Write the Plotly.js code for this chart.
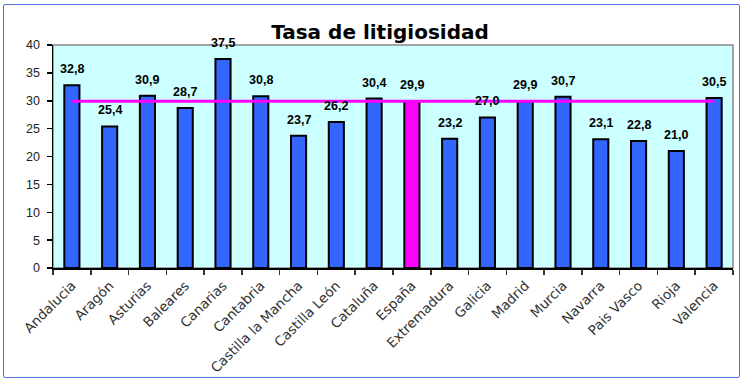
<!DOCTYPE html>
<html><head><meta charset="utf-8">
<script src="https://cdn.plot.ly/plotly-3.0.1.min.js"></script>
<style>
html,body{margin:0;padding:0;background:#fff;}
#wrap{position:relative;width:743px;height:382px;}
#chart{width:743px;height:382px;}
#frame{position:absolute;left:3px;top:4px;width:735px;height:372px;border:1.5px solid #4a74d6;border-radius:2px;pointer-events:none;}
</style></head>
<body>
<div id="wrap"><div id="chart"></div><div id="frame"></div></div>
<script>
const categories = ["Andalucia","Aragón","Asturias","Baleares","Canarias","Cantabria","Castilla la Mancha","Castilla León","Cataluña","España","Extremadura","Galicia","Madrid","Murcia","Navarra","Pais Vasco","Rioja","Valencia"];
const tasa = [32.8,25.4,30.9,28.7,37.5,30.8,23.7,26.2,30.4,29.9,23.2,27.0,29.9,30.7,23.1,22.8,21.0,30.5];
const mediaEspana = [29.9,29.9,29.9,29.9,29.9,29.9,29.9,29.9,29.9,29.9,29.9,29.9,29.9,29.9,29.9,29.9,29.9,29.9];
const yTicks = [0,5,10,15,20,25,30,35,40];

const barColors = categories.map(c => c === "España" ? "#ff00ff" : "#3366ff");

const traces = [
  {
    type: "bar", x: categories, y: tasa,
    marker: {color: barColors, line: {color: "#000", width: 2}},
    hoverinfo: "x+y"
  },
  {
    type: "scatter", mode: "lines", x: categories, y: mediaEspana,
    line: {color: "#ff00ff", width: 3}, hoverinfo: "skip"
  }
];

const annotations = categories.map((c, i) => ({
  x: c, y: tasa[i], xref: "x", yref: "y",
  text: "<b>" + tasa[i].toFixed(1).replace(".", ",") + "</b>",
  showarrow: false, yanchor: "bottom", xanchor: "center", yshift: 7,
  font: {family: "Liberation Sans, Arial", size: 12.5, color: "#000"}
}));

const layout = {
  width: 743, height: 382,
  margin: {l: 53, r: 10, t: 45, b: 114},
  paper_bgcolor: "#fff", plot_bgcolor: "#ccffff",
  showlegend: false,
  bargap: 0.6,
  title: {text: "<b>Tasa de litigiosidad</b>", x: 380/743, xanchor: "center", y: 0.915, yanchor: "middle",
          font: {family: "DejaVu Sans", size: 20, color: "#000"}},
  xaxis: {
    type: "category", showline: true, linecolor: "#000", linewidth: 1.5,
    ticks: "outside", tickson: "boundaries", ticklen: 5, tickcolor: "#333", tickwidth: 1.5,
    ticklabelstandoff: 3,
    tickangle: -45, tickfont: {family: "DejaVu Sans", size: 13.5, color: "#333"},
    showgrid: false, automargin: false
  },
  yaxis: {
    range: [0, 40], tickvals: yTicks, ticktext: yTicks.map(String),
    showline: true, linecolor: "#000", linewidth: 1.5,
    ticks: "outside", ticklen: 5, tickcolor: "#000", tickwidth: 1.5,
    ticklabelstandoff: 4,
    tickfont: {family: "Liberation Sans, Arial", size: 12.5, color: "#222"},
    showgrid: false, zeroline: false, automargin: false
  },
  annotations: annotations,
  shapes: [
    {type: "rect", xref: "paper", yref: "paper", x0: 0, x1: 1, y0: 0, y1: 1,
     line: {color: "#888", width: 1.5}, layer: "below"}
  ]
};

Plotly.newPlot("chart", traces, layout, {displayModeBar: false, staticPlot: true});
</script>
</body></html>
